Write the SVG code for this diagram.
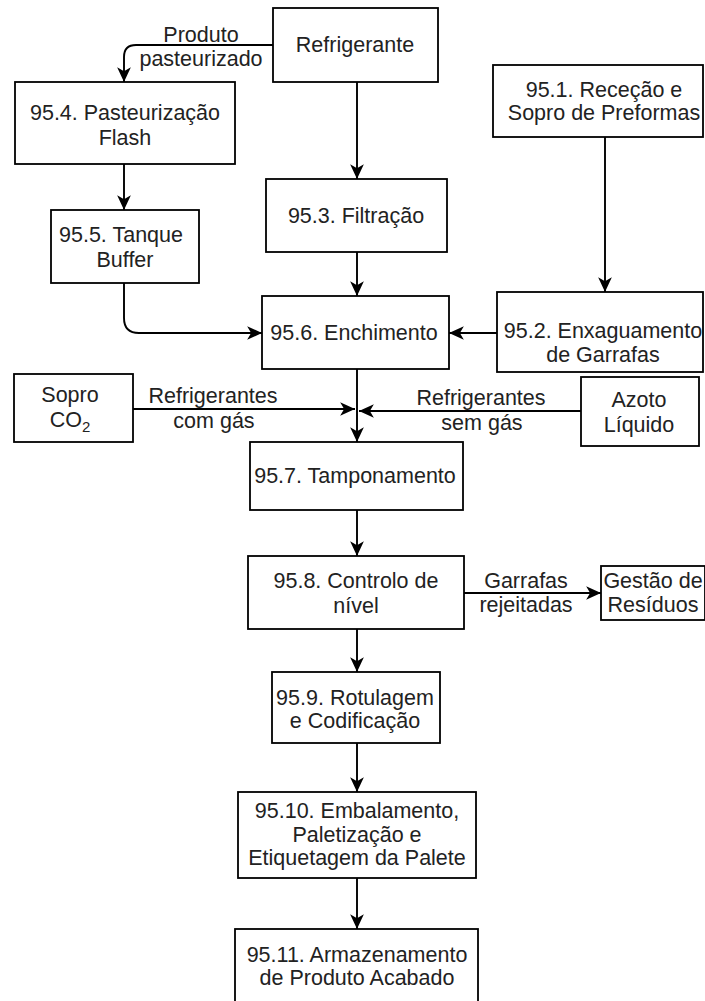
<svg xmlns="http://www.w3.org/2000/svg" width="705" height="1001" viewBox="0 0 705 1001">
<defs>
<style>
.box{fill:#fff;stroke:#000;stroke-width:1.8}
.t{font-family:"Liberation Sans",Arial,sans-serif;font-size:21.5px;fill:#222;text-anchor:middle}
.c{fill:none;stroke:#000;stroke-width:1.9}
</style>
<marker id="a" markerUnits="userSpaceOnUse" markerWidth="16" markerHeight="16" viewBox="0 0 14 14" refX="13" refY="7" orient="auto">
<path d="M0,1 L13,7 L0,13 L3.5,7 Z" fill="#000"/>
</marker>
</defs>
<rect width="705" height="1001" fill="#fff"/>
<g id="connectors">
<path class="c" d="M273,45 L136,45 Q124,45 124,57 L124,82" marker-end="url(#a)"/>
<path class="c" d="M357,82 L357,179" marker-end="url(#a)"/>
<path class="c" d="M124,164 L124,210" marker-end="url(#a)"/>
<path class="c" d="M124,283 L124,318 Q124,333 139,333 L262,333" marker-end="url(#a)"/>
<path class="c" d="M605,137 L605,292" marker-end="url(#a)"/>
<path class="c" d="M497,333 L449,333" marker-end="url(#a)"/>
<path class="c" d="M357,252 L357,296" marker-end="url(#a)"/>
<path class="c" d="M357,369 L357,442" marker-end="url(#a)"/>
<path class="c" d="M133,409 L355,409" marker-end="url(#a)"/>
<path class="c" d="M581,411 L359,411" marker-end="url(#a)"/>
<path class="c" d="M357,510 L357,556" marker-end="url(#a)"/>
<path class="c" d="M464,593 L601,593" marker-end="url(#a)"/>
<path class="c" d="M357,629 L357,672" marker-end="url(#a)"/>
<path class="c" d="M357,743 L357,792" marker-end="url(#a)"/>
<path class="c" d="M357,878 L357,929" marker-end="url(#a)"/>
<text class="t" x="201" y="42">Produto</text>
<text class="t" x="201" y="66">pasteurizado</text>
<text class="t" x="213" y="403">Refrigerantes</text>
<text class="t" x="214" y="428">com gás</text>
<text class="t" x="481" y="405">Refrigerantes</text>
<text class="t" x="482" y="430">sem gás</text>
<text class="t" x="526" y="588">Garrafas</text>
<text class="t" x="526" y="612">rejeitadas</text>
</g>
<g id="refrigerante"><rect class="box" x="273" y="8" width="165" height="74"/><text class="t" x="355" y="52">Refrigerante</text></g>
<g id="n954"><rect class="box" x="15" y="82" width="220" height="82"/><text class="t" x="125" y="120">95.4. Pasteurização</text><text class="t" x="125" y="145">Flash</text></g>
<g id="n951"><rect class="box" x="493" y="65" width="210" height="72"/><text class="t" x="604" y="97">95.1. Receção e</text><text class="t" x="604" y="120">Sopro de Preformas</text></g>
<g id="n953"><rect class="box" x="266" y="179" width="181" height="73"/><text class="t" x="356" y="223">95.3. Filtração</text></g>
<g id="n955"><rect class="box" x="51" y="210" width="148" height="73"/><text class="t" x="121" y="242">95.5. Tanque</text><text class="t" x="125" y="267">Buffer</text></g>
<g id="n956"><rect class="box" x="262" y="296" width="187" height="73"/><text class="t" x="354" y="340">95.6. Enchimento</text></g>
<g id="n952"><rect class="box" x="497" y="292" width="206" height="80"/><text class="t" x="603" y="338">95.2. Enxaguamento</text><text class="t" x="603" y="362">de Garrafas</text></g>
<g id="sopro"><rect class="box" x="14" y="374" width="119" height="68"/><text class="t" x="70" y="402">Sopro</text><text class="t" x="70" y="427">CO<tspan font-size="15" dy="5">2</tspan></text></g>
<g id="azoto"><rect class="box" x="581" y="377" width="118" height="69"/><text class="t" x="639" y="407">Azoto</text><text class="t" x="639" y="432">Líquido</text></g>
<g id="n957"><rect class="box" x="250" y="442" width="213" height="68"/><text class="t" x="355" y="483">95.7. Tamponamento</text></g>
<g id="n958"><rect class="box" x="248" y="556" width="216" height="73"/><text class="t" x="356" y="588">95.8. Controlo de</text><text class="t" x="356" y="613">nível</text></g>
<g id="gestao"><rect class="box" x="601" y="566" width="104" height="54"/><text class="t" x="653" y="588">Gestão de</text><text class="t" x="653" y="612">Resíduos</text></g>
<g id="n959"><rect class="box" x="272" y="672" width="168" height="71"/><text class="t" x="355" y="705">95.9. Rotulagem</text><text class="t" x="355" y="728">e Codificação</text></g>
<g id="n9510"><rect class="box" x="238" y="792" width="238" height="86"/><text class="t" x="357" y="818">95.10. Embalamento,</text><text class="t" x="357" y="842">Paletização e</text><text class="t" x="357" y="865">Etiquetagem da Palete</text></g>
<g id="n9511"><rect class="box" x="235" y="929" width="243" height="85"/><text class="t" x="357" y="962">95.11. Armazenamento</text><text class="t" x="357" y="985">de Produto Acabado</text></g>
</svg>
